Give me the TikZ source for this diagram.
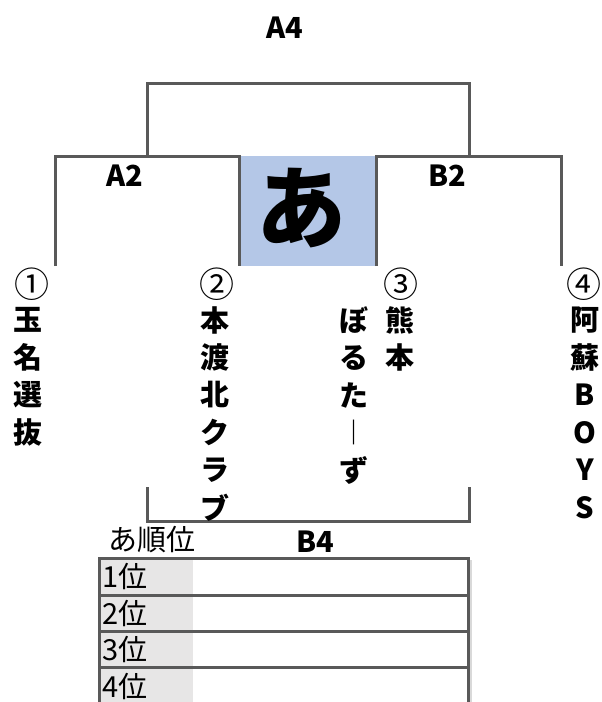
\documentclass[tikz,border=0pt]{standalone}
\usepackage{fontspec}
\setmainfont{Noto Sans CJK JP}
\definecolor{lineGray}{HTML}{595959}
\definecolor{winBlue}{HTML}{B4C7E7}
\definecolor{rankGray}{HTML}{E7E6E6}

\begin{document}
\begin{tikzpicture}[x=1pt,y=-1pt,
  bracket/.style={draw=lineGray,line width=3pt},
  roundname/.style={font=\bfseries\fontsize{29}{29}\selectfont,inner sep=0pt},
  seed/.style={font=\fontsize{35}{35}\selectfont,inner sep=0pt},
  team/.style={font=\bfseries\fontsize{29}{29}\selectfont,inner sep=0pt},
  ranktext/.style={font=\fontsize{29}{29}\selectfont,inner sep=0pt,anchor=west}]

\useasboundingbox (0,0) rectangle (602,702);

% winner box
\fill[winBlue] (239,156) rectangle (376,266);
\node[font=\bfseries\fontsize{90}{90}\selectfont,inner sep=0pt] (mark) at (301,208) {あ};

% bracket ends
\coordinate (leg1) at (55,266);
\coordinate (leg2) at (239,266);
\coordinate (leg3) at (376,266);
\coordinate (leg4) at (561,266);
\coordinate (semiA) at (147,156);
\coordinate (semiB) at (469,156);
\coordinate (final) at (308,83);
\coordinate (low1) at (147,487);
\coordinate (low2) at (469,487);
\coordinate (third) at (308,521);

\draw[bracket] (leg1) -- (leg1 |- semiA) -- (leg2 |- semiA) -- (leg2);
\draw[bracket] (leg3) -- (leg3 |- semiB) -- (leg4 |- semiB) -- (leg4);
\draw[bracket] (semiA) -- (semiA |- final) -- (semiB |- final) -- (semiB);
\draw[bracket] (low1) -- (low1 |- third) -- (low2 |- third) -- (low2);

% round names
\node[roundname] (A4) at (285,28) {A4};
\node[roundname] (A2) at (125,176) {A2};
\node[roundname] (B2) at (447,176) {B2};
\node[roundname] (B4) at (315,542) {B4};

% seeds
\node[seed] (s1) at (32,284) {①};
\node[seed] (s2) at (217,284) {②};
\node[seed] (s3) at (401,284) {③};
\node[seed] (s4) at (584,284) {④};

% teams, written top to bottom
\foreach \c [count=\i] in {玉,名,選,抜}
  \node[team] (t1-\i) at (28,{320+37.5*(\i-1)}) {\c};
\foreach \c [count=\i] in {本,渡,北,ク,ラ,ブ}
  \node[team] (t2-\i) at (215,{320+37.5*(\i-1)}) {\c};
\foreach \c [count=\i] in {熊,本}
  \node[team] (t3-\i) at (400,{320+37.5*(\i-1)}) {\c};
\foreach \c [count=\i] in {ぼ,る,た,{\mdseries ︱},ず}
  \node[team] (u3-\i) at (354,{320+37.5*(\i-1)}) {\c};
\foreach \c [count=\i] in {阿,蘇,B,O,Y,S}
  \node[team] (t4-\i) at (585,{320+37.5*(\i-1)}) {\c};

% ranking table
\node[ranktext] (rank) at (108,540) {あ順位};
\fill[rankGray] (99,558) rectangle (193,702);
\draw[line width=2pt,draw=black!15] (471,560) -- (471,702);
\draw[bracket] (99,702) -- (99,558) -- (468,558) -- (468,702);
\foreach \y in {595,631,667}
  \draw[bracket] (99,\y) -- (468,\y);
\foreach \y [count=\i] in {576,613,649,686}
  \node[ranktext] (r\i) at (102,\y) {\i 位};

\end{tikzpicture}
\end{document}
